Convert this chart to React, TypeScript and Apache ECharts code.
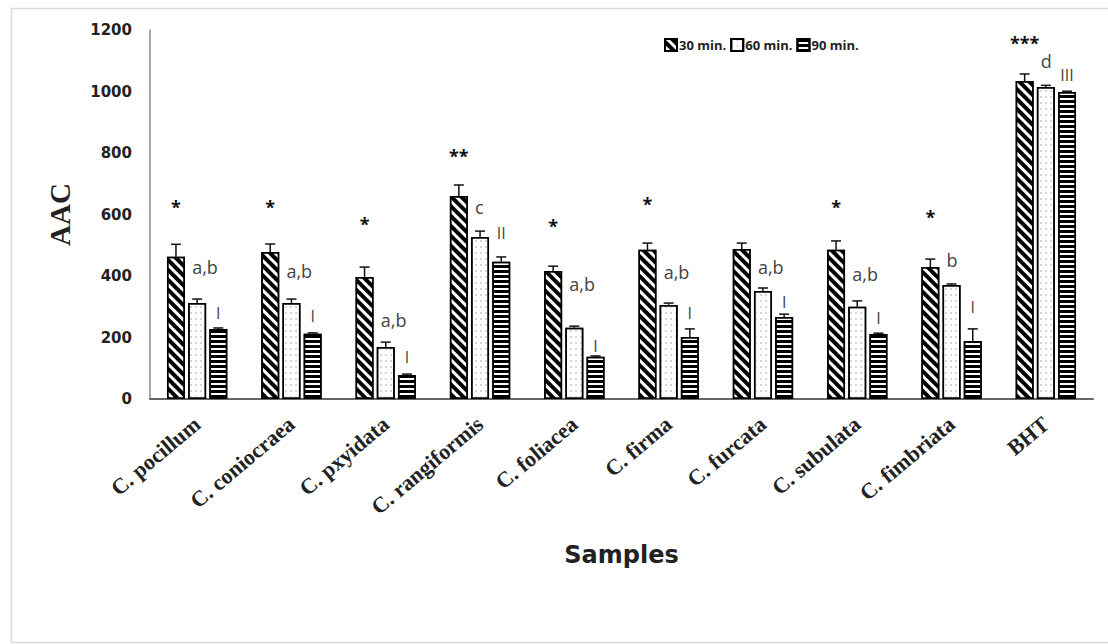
import React, { useEffect, useRef } from "react";
import * as echarts from "echarts";

const categories = ["C. pocillum", "C. coniocraea", "C. pxyidata", "C. rangiformis", "C. foliacea", "C. firma", "C. furcata", "C. subulata", "C. fimbriata", "BHT"];
const seriesNames = ["30 min.", "60 min.", "90 min."];
const min30 = [463, 478, 397, 660, 416, 485, 488, 485, 429, 1034];
const err30 = [40, 26, 32, 36, 16, 22, 19, 29, 26, 23];
const min60 = [312, 312, 169, 527, 232, 306, 351, 300, 371, 1015];
const err60 = [13, 13, 16, 19, 5, 6, 10, 19, 3, 5];
const min90 = [228, 212, 78, 446, 137, 202, 267, 211, 189, 998];
const err90 = [3, 3, 3, 16, 3, 26, 9, 3, 39, 3];

const starText = ["*", "*", "*", "**", "*", "*", "", "*", "*", "***"];
const starY = [624, 624, 569, 790, 563, 634, 0, 624, 592, 1158];
const letterText = ["a,b", "a,b", "a,b", "c", "a,b", "a,b", "a,b", "a,b", "b", "d"];
const letterY = [429, 416, 257, 624, 374, 413, 429, 407, 452, 1099];
const romanText = ["I", "I", "I", "II", "I", "I", "I", "I", "I", "III"];
const romanY = [280, 270, 137, 540, 172, 280, 316, 263, 299, 1054];

const yTicks = { min: 0, max: 1200, interval: 200 };

const CAT_GAP = 0.36;
const BAR_GAP = 0.18;

function barOffset(bandWidth: number, i: number) {
  const rem = bandWidth * (1 - CAT_GAP);
  const w = rem / (3 + 2 * BAR_GAP);
  const total = 3 * w + 2 * BAR_GAP * w;
  return -total / 2 + w / 2 + i * w * (1 + BAR_GAP);
}

const values = [min30, min60, min90];
const errs = [err30, err60, err90];

export default function App() {
  const ref = useRef<HTMLDivElement>(null);
  useEffect(() => {
    const chart = echarts.init(ref.current!, null, { renderer: "svg" });
    const decals: any[] = [
      { symbol: "rect", symbolSize: 1, dashArrayX: [1, 0], dashArrayY: [4, 3], rotation: Math.PI / 4, color: "#000" },
      { symbol: "circle", symbolSize: 0.7, dashArrayX: [2, 3], dashArrayY: [2, 4], rotation: 0, color: "#999" },
      { symbol: "rect", symbolSize: 1, dashArrayX: [1, 0], dashArrayY: [3, 2], rotation: 0, color: "#000" },
    ];
    const barSeries = values.map((v, i) => ({
      type: "bar",
      name: seriesNames[i],
      data: v,
      barCategoryGap: "36%",
      barGap: "18%",
      itemStyle: { color: "#fff", borderColor: "#000", borderWidth: 1.5, decal: decals[i] },
      z: 2,
    }));

    const errData: number[][] = [];
    errs.forEach((e, s) => e.forEach((ev, c) => errData.push([c, values[s][c], values[s][c] + ev, s])));

    const annData: number[][] = [];
    categories.forEach((_, c) => {
      if (starText[c]) annData.push([c, starY[c], 0]);
      annData.push([c, letterY[c], 1]);
      annData.push([c, romanY[c], 2]);
    });
    const annTexts = [starText, letterText, romanText];

    const option: any = {
      animation: false,
      backgroundColor: "#fff",
      grid: { left: 150, right: 15, top: 30, bottom: 245 },
      legend: {
        left: 659,
        top: 33,
        itemWidth: 12,
        itemHeight: 12,
        itemGap: 4,
        icon: "rect",
        data: seriesNames,
        textStyle: { fontFamily: "Open Sans", fontWeight: "bold", fontSize: 13, color: "#222", padding: [0, 0, 0, -3] },
      },
      xAxis: {
        type: "category",
        data: categories,
        name: "Samples",
        nameLocation: "middle",
        nameGap: 144,
        nameTextStyle: { fontFamily: "DejaVu Sans", fontWeight: "bold", fontSize: 24, color: "#222", verticalAlign: "top" },
        axisLine: { lineStyle: { color: "#666", width: 2 } },
        axisTick: { show: false },
        axisLabel: { interval: 0, rotate: 40, margin: 22, fontFamily: "Liberation Serif", fontWeight: "bold", fontSize: 22, color: "#222" },
      },
      yAxis: {
        type: "value",
        min: yTicks.min,
        max: yTicks.max,
        interval: yTicks.interval,
        name: "AAC",
        nameLocation: "middle",
        nameGap: 76,
        nameRotate: 90,
        nameTextStyle: { fontFamily: "Liberation Serif", fontWeight: "bold", fontSize: 29, color: "#222" },
        axisLine: { show: true, lineStyle: { color: "#888", width: 1.5 } },
        axisTick: { show: false },
        splitLine: { show: false },
        axisLabel: { margin: 18, fontFamily: "DejaVu Sans", fontWeight: "bold", fontSize: 15, color: "#222", formatter: (v: number) => String(v) },
      },
      graphic: [
        { type: "rect", left: 9, top: 6, shape: { width: 1110, height: 634 }, style: { fill: "none", stroke: "#d9d9d9", lineWidth: 1.5 }, silent: true },
      ],
      series: [
        ...barSeries,
        {
          type: "custom",
          name: "err",
          data: errData,
          z: 5,
          renderItem: (params: any, api: any) => {
            const c = api.value(0);
            const s = api.value(3);
            const bw = api.size([1, 0])[0];
            const off = barOffset(bw, s);
            const p0 = api.coord([c, api.value(1)]);
            const p1 = api.coord([c, api.value(2)]);
            const x = p0[0] + off;
            const style = { stroke: "#111", lineWidth: 1.5 };
            return {
              type: "group",
              children: [
                { type: "line", shape: { x1: x, y1: p0[1], x2: x, y2: p1[1] }, style },
                { type: "line", shape: { x1: x - 5, y1: p1[1], x2: x + 5, y2: p1[1] }, style },
              ],
            };
          },
        },
        {
          type: "custom",
          name: "ann",
          data: annData,
          z: 6,
          renderItem: (params: any, api: any) => {
            const c = api.value(0);
            const s = api.value(2);
            const bw = api.size([1, 0])[0];
            const off = barOffset(bw, s);
            const p = api.coord([c, api.value(1)]);
            const txt = annTexts[s][c];
            const isLetter = s === 1;
            return {
              type: "text",
              style: {
                text: txt,
                x: p[0] + off + (isLetter ? -5 : 0),
                y: p[1],
                align: isLetter ? "left" : "center",
                verticalAlign: "middle",
                fill: s === 0 ? "#111" : "#444",
                fontFamily: "Open Sans",
                fontSize: s === 0 ? 18 : s === 1 ? 18 : 16,
                fontWeight: s === 0 ? "bold" : "normal",
              },
            };
          },
        },
      ],
    };
    chart.setOption(option);
    return () => chart.dispose();
  }, []);
  return <div ref={ref} style={{ position: "absolute", left: 0, top: 0, width: 1108, height: 644 }} />;
}
